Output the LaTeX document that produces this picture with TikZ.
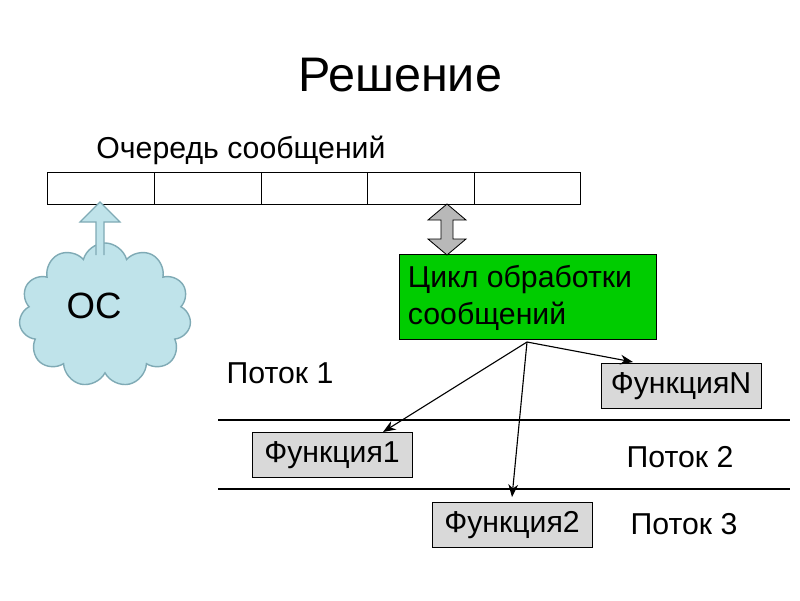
\documentclass[tikz,border=0pt]{standalone}
\usepackage{fontspec}
\setmainfont{Liberation Sans}
\usetikzlibrary{shapes.symbols,shapes.arrows,arrows.meta}
\definecolor{cloudc}{HTML}{BFE3EA}
\definecolor{cloudd}{HTML}{7FAAB5}
\definecolor{func}{HTML}{D9D9D9}
\tikzset{
  fbox/.style={draw=black,fill=func,minimum width=4cm,minimum height=1.12cm,inner sep=0pt,font=\fontsize{21.5}{24}\selectfont},
  lbl/.style={font=\fontsize{21.5}{24}\selectfont},
  arr/.style={-{Stealth[length=9pt,width=7pt]},line width=0.8pt}
}
\begin{document}
\begin{tikzpicture}[x=0.025cm,y=-0.025cm]
\useasboundingbox[fill=white] (0,0) rectangle (800,600);
\node (title) at (400,75) {\fontsize{34.5}{38}\selectfont Решение};
\node[lbl] (qlbl) at (241,150) {Очередь сообщений};
\draw[line width=0.6pt] (47,172) rectangle (580,204);
\foreach \x in {154,261,367,474} \draw[line width=0.6pt] (\x,172) -- (\x,204);
\node[cloud,cloud puffs=11,aspect=1.2,draw=cloudd,fill=cloudc,line width=1pt,minimum width=4.3cm,minimum height=3.6cm] (os) at (105,315) {};
\node[font=\fontsize{26}{28}\selectfont] at (94,306) {ОС};
\draw[draw=cloudd,fill=cloudc,line width=0.8pt] (96,255) -- (96,222) -- (80,222) -- (100,202) -- (120,222) -- (104,222) -- (104,255);
\node[draw=black,fill=green!80!black,minimum width=6.42cm,minimum height=2.12cm,inner sep=0pt] (loop) at (528,297) {};
\node[lbl,align=left,anchor=west] at (403,298) {Цикл обработки\\[2pt]сообщений};
\draw[fill=func!85!black,draw=black,line width=0.6pt] (441,220) -- (428,220) -- (447,204) -- (466,220) -- (453,220) -- (453,239) -- (466,239) -- (447,255) -- (428,239) -- (441,239) -- cycle;
\node[lbl] (p1) at (280,373) {Поток 1};
\node[lbl] (p2) at (680,457) {Поток 2};
\node[lbl] (p3) at (684,524) {Поток 3};
\draw[line width=0.8pt] (218,420) -- (790,420);
\draw[line width=0.8pt] (218,489) -- (790,489);
\node[fbox] (fN) at (681,386) {ФункцияN};
\node[fbox] (f1) at (332,455) {Функция1};
\node[fbox] (f2) at (512,525) {Функция2};
\coordinate (src) at (527,342);
\draw[arr] (src) -- (633,362);
\draw[arr] (src) -- (383,432);
\draw[arr] (src) -- (512,497);
\end{tikzpicture}
\end{document}
